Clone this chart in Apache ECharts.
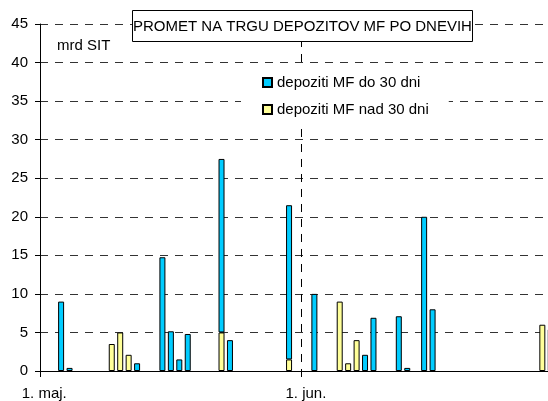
<!DOCTYPE html>
<html><head><meta charset="utf-8">
<script src="https://cdn.jsdelivr.net/npm/echarts@6/dist/echarts.min.js"></script>
<style>html,body{margin:0;padding:0;background:#fff}#c{width:548px;height:401px}</style>
</head><body><div id="c"></div>
<script>
const titleText = 'PROMET NA TRGU DEPOZITOV MF PO DNEVIH';
const unitText = 'mrd SIT';
const seriesNames = ['depoziti MF do 30 dni', 'depoziti MF nad 30 dni'];

// categories: every calendar day, 1 May .. 30 June
const categories = [];
for (let d = 1; d <= 31; d++) categories.push(d + '. maj.');
for (let d = 1; d <= 30; d++) categories.push(d + '. jun.');
const shownLabels = ['1. maj.', '1. jun.'];

// y axis ticks
const yMin = 0, yMax = 45, yStep = 5;

// daily values (mrd SIT), null = no trade that day
const do30 = [
  null, null, 9.0, 0.4, null, null, null, null, null, null,   // 1-10 May
  null, 1.0, null, null, 14.75, 5.15, 1.5, 4.8, null, null,  // 11-20 May
  null, 22.5, 4.0, null, null, null, null, null, null, 20.0,  // 21-30 May
  null, null, 10.0, null, null, null, null, null, 2.1, 6.9,   // 31 May - 9 Jun
  null, null, 7.1, 0.4, null, 20.0, 8.0, null, null, null,    // 10-19 Jun
  null, null, null, null, null, null, null, null, null, null, // 20-29 Jun
  null                                                        // 30 Jun
];
const nad30 = [
  null, null, null, null, null, null, null, null, 3.5, 5.0,
  2.1, null, null, null, null, null, null, null, null, null,
  null, 5.0, null, null, null, null, null, null, null, 1.5,
  null, null, null, null, null, 9.0, 1.0, 4.0, null, null,
  null, null, null, null, null, null, null, null, null, null,
  null, null, null, null, null, null, null, null, null, 6.0,
  5.4
];

const FONT = '"Liberation Sans", Arial, sans-serif';
const isShown = (i, v) => shownLabels.includes(categories[i]);

const chart = echarts.init(document.getElementById('c'), null, {renderer: 'canvas'});
chart.setOption({
  animation: false,
  backgroundColor: '#fff',
  textStyle: {fontFamily: FONT, color: '#000'},
  title: {
    text: titleText, left: 132, top: 10, padding: [9, 1, 8, 1],
    borderColor: '#000', borderWidth: 1, backgroundColor: '#fff',
    textStyle: {fontSize: 15, fontWeight: 'normal', color: '#000', fontFamily: FONT}
  },
  legend: {
    data: seriesNames, orient: 'vertical', left: 241, top: 66,
    padding: [9, 20, 9, 21], itemGap: 12, itemWidth: 9, itemHeight: 9,
    backgroundColor: '#fff', icon: 'rect',
    textStyle: {fontSize: 15, color: '#000', fontFamily: FONT}
  },
  graphic: [{
    type: 'text', left: 57, top: 38,
    style: {text: unitText, fontSize: 15, fontFamily: FONT, fill: '#000'}
  }],
  grid: {left: 40, top: 24, width: 515, bottom: 30, containLabel: false, outerBoundsMode: 'none'},
  xAxis: {
    type: 'category', data: categories, boundaryGap: true,
    axisLine: {show: true, lineStyle: {color: '#000', width: 1}},
    axisTick: {show: true, interval: isShown, length: 6, lineStyle: {color: '#000'}},
    axisLabel: {interval: isShown, margin: 15, fontSize: 15, color: '#000', fontFamily: FONT},
    splitLine: {show: true, interval: isShown, lineStyle: {color: '#000', type: [8, 7], width: 1}}
  },
  yAxis: {
    type: 'value', min: yMin, max: yMax, interval: yStep,
    axisLine: {show: true, lineStyle: {color: '#000', width: 1}},
    axisTick: {show: true, length: 5, lineStyle: {color: '#000'}},
    axisLabel: {margin: 12, fontSize: 15, color: '#000', fontFamily: FONT},
    splitLine: {show: true, lineStyle: {color: '#333', type: [8, 7], width: 1}}
  },
  series: [
    {
      name: seriesNames[1], type: 'bar', stack: 'd', data: nad30, barWidth: 6,
      itemStyle: {color: '#FFFF99', borderColor: '#000', borderWidth: 1}
    },
    {
      name: seriesNames[0], type: 'bar', stack: 'd', data: do30, barWidth: 6,
      itemStyle: {color: '#00CCFF', borderColor: '#000', borderWidth: 1}
    }
  ]
});
</script>
</body></html>
